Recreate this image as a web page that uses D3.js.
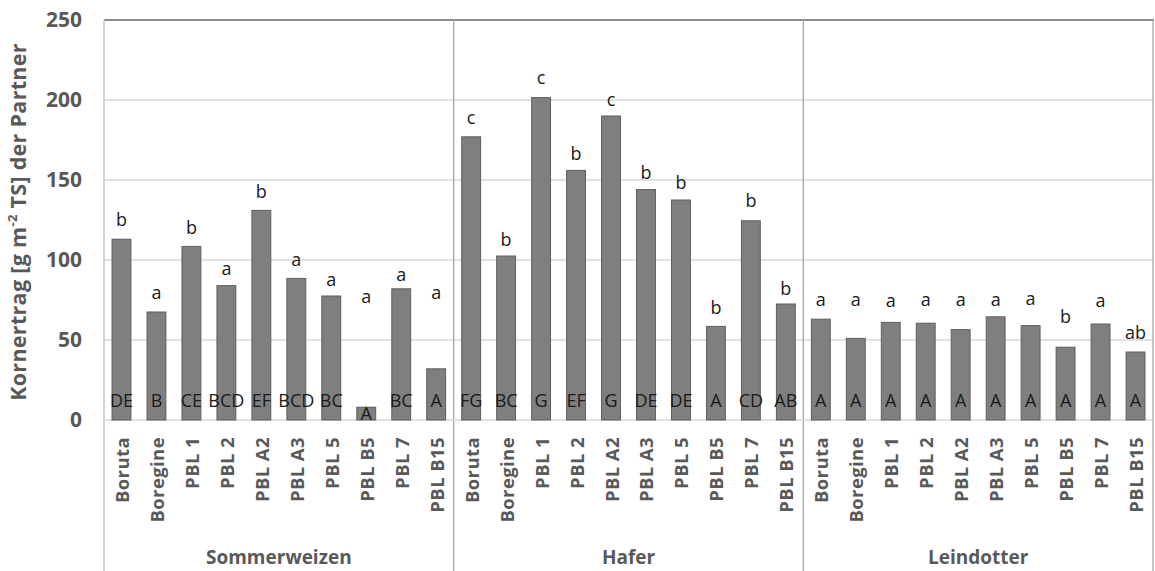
<!DOCTYPE html>
<html><head><meta charset="utf-8">
<script src="https://cdn.jsdelivr.net/npm/d3@7"></script>
<style>body{margin:0;background:#fff}svg{display:block}text{font-family:"Open Sans",sans-serif}</style>
</head><body><svg id="c" width="1155" height="571"></svg>
<script>
const groups = ["Sommerweizen","Hafer","Leindotter"];
const varieties = ["Boruta","Boregine","PBL 1","PBL 2","PBL A2","PBL A3","PBL 5","PBL B5","PBL 7","PBL B15"];
const sommerweizen = [113,67.5,108.5,84,131,88.5,77.5,8,82,32];
const hafer = [177,102.5,201.5,156,190,144,137.5,58.5,124.5,72.5];
const leindotter = [63,51,61,60.5,56.5,64.5,59,45.5,60,42.5];
// upper letter annotation anchor values
const sommerweizenTop = [121,75.5,116,90.5,139,96,84,73,87,75.5];
const haferTop = [185,108.5,210,162.5,196,150.5,144.5,66.5,133,78];
const leindotterTop = [71,71,70.5,71.5,71,71.5,72,60.5,70.5,50.5];
const sommerweizenLow = ["b","a","b","a","b","a","a","a","a","a"];
const haferLow = ["c","b","c","b","c","b","b","b","b","b"];
const leindotterLow = ["a","a","a","a","a","a","a","b","a","ab"];
const sommerweizenCap = ["DE","B","CE","BCD","EF","BCD","BC","A","BC","A"];
const haferCap = ["FG","BC","G","EF","G","DE","DE","A","CD","AB"];
const leindotterCap = ["A","A","A","A","A","A","A","A","A","A"];
const yTicks = [0,50,100,150,200,250];

const values = [sommerweizen,hafer,leindotter];
const tops = [sommerweizenTop,haferTop,leindotterTop];
const lows = [sommerweizenLow,haferLow,leindotterLow];
const caps = [sommerweizenCap,haferCap,leindotterCap];
const rows = [];
groups.forEach((g,gi)=>varieties.forEach((v,vi)=>rows.push({g,v,key:g+"|"+v,val:values[gi][vi],top:tops[gi][vi],low:lows[gi][vi],cap:caps[gi][vi]})));

const svg = d3.select("#c");
const L=104,R=1153,T=20,B=420,BOT=571;
const y = d3.scaleLinear().domain([0,250]).range([B,T]);
const xg = d3.scaleBand().domain(groups).range([L,R]).padding(0);
const x = d3.scaleBand().domain(rows.map(d=>d.key)).range([L,R]).paddingInner(0.46).paddingOuter(0.23);

// gridlines
svg.append("g").selectAll("line").data(yTicks.filter(t=>t>0&&t<250)).join("line")
  .attr("x1",L).attr("x2",R).attr("y1",d=>y(d)).attr("y2",d=>y(d))
  .attr("stroke","#d9d9d9").attr("stroke-width",1.3);
// frame top
svg.append("line").attr("x1",L).attr("x2",R+1).attr("y1",y(250)).attr("y2",y(250)).attr("stroke","#8c8c8c").attr("stroke-width",2);
// separators
const seps = [L, ...groups.map(g=>xg(g)+xg.bandwidth())];
svg.append("g").selectAll("line").data(seps).join("line")
  .attr("x1",d=>d).attr("x2",d=>d).attr("y1",T).attr("y2",BOT)
  .attr("stroke",(d,i)=>i===0?"#bfbfbf":"#a6a6a6").attr("stroke-width",1.3);
// baseline
svg.append("line").attr("x1",L).attr("x2",R).attr("y1",y(0)).attr("y2",y(0)).attr("stroke","#d9d9d9").attr("stroke-width",1.3);

// bars
svg.append("g").selectAll("rect").data(rows).join("rect")
  .attr("x",d=>x(d.key)).attr("width",x.bandwidth())
  .attr("y",d=>y(d.val)).attr("height",d=>y(0)-y(d.val))
  .attr("fill","#7f7f7f").attr("stroke","#5f5f5f").attr("stroke-width",1);

const cx = d=>x(d.key)+x.bandwidth()/2;
// upper letters
svg.append("g").selectAll("text").data(rows).join("text")
  .attr("x",cx).attr("y",d=>y(d.top))
  .attr("text-anchor","middle").attr("font-size",18).attr("fill","#1a1a1a").text(d=>d.low);
// lower letters
svg.append("g").selectAll("text").data(rows).join("text")
  .attr("x",cx).attr("y",d=>Math.max(y(12), y(d.val)+6)).attr("dy","0.35em")
  .attr("text-anchor","middle").attr("font-size",18).attr("fill","#1a1a1a").text(d=>d.cap);

// y tick labels
svg.append("g").selectAll("text").data(yTicks).join("text")
  .attr("x",82).attr("y",d=>y(d)).attr("dy","0.35em").attr("text-anchor","end")
  .attr("font-size",21).attr("font-weight",700).attr("fill","#595959").text(d=>d);

// category labels
svg.append("g").selectAll("text").data(rows).join("text")
  .attr("transform",d=>`translate(${cx(d)+1},437) rotate(-90)`).attr("dy","0.35em")
  .attr("text-anchor","end").attr("font-size",18.5).attr("font-weight",700).attr("letter-spacing",0.4)
  .attr("fill","#595959").text(d=>d.v);
// group labels
svg.append("g").selectAll("text").data(groups).join("text")
  .attr("x",d=>xg(d)+xg.bandwidth()/2).attr("y",564).attr("text-anchor","middle")
  .attr("font-size",19).attr("font-weight",700).attr("fill","#595959").text(d=>d);

// y title
const yt = svg.append("text").attr("transform","translate(26,222) rotate(-90)").attr("text-anchor","middle")
  .attr("font-size",21.5).attr("font-weight",700).attr("letter-spacing",0.3).attr("fill","#595959");
yt.append("tspan").text("Kornertrag [g m");
yt.append("tspan").attr("baseline-shift","super").attr("font-size",13).text("-2");
yt.append("tspan").text(" TS] der Partner");
</script></body></html>
